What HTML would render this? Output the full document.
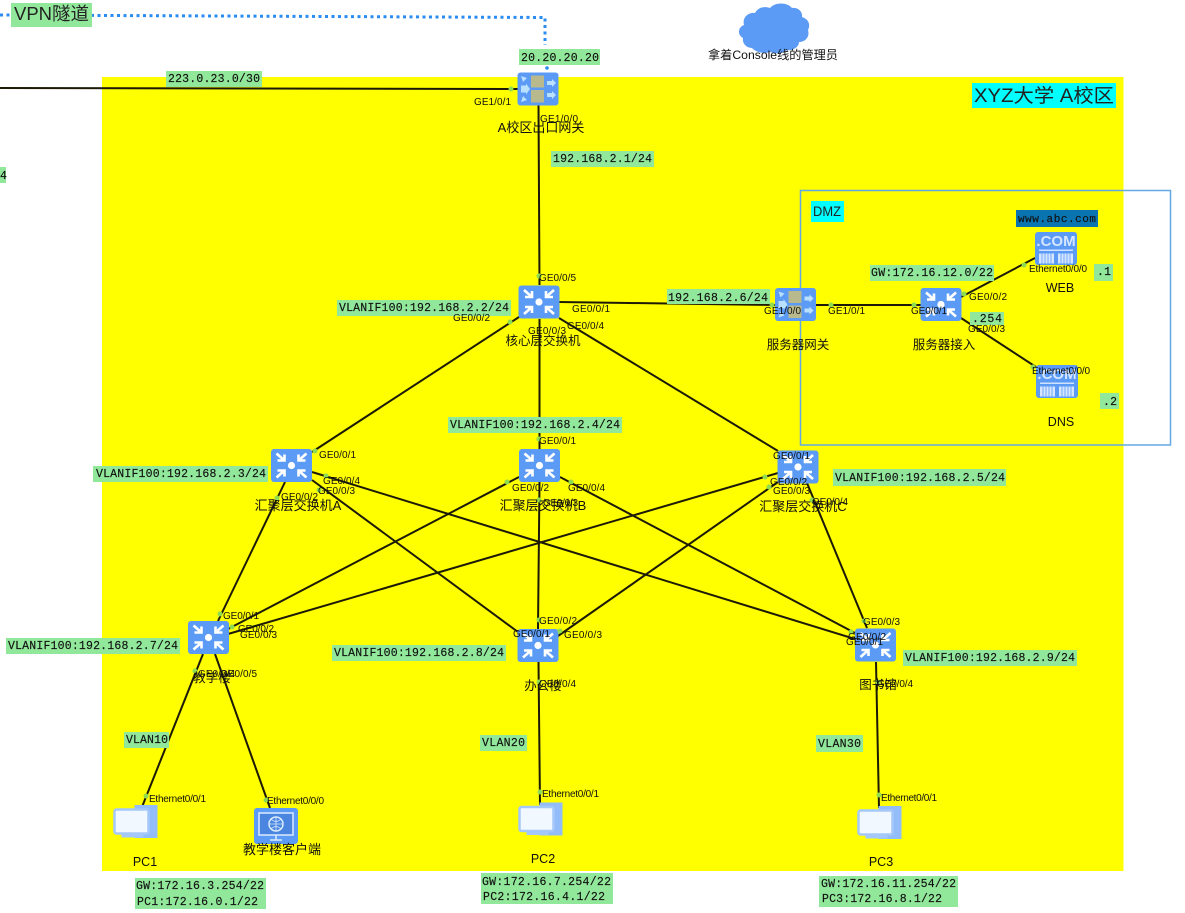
<!DOCTYPE html>
<html><head><meta charset="utf-8"><title>XYZ大学 A校区</title>
<style>
html,body{margin:0;padding:0;background:#fff;width:1185px;height:913px;overflow:hidden}
svg{display:block;filter:blur(.35px)}
.m{font-family:"Liberation Mono","Noto Sans CJK SC",monospace;font-size:11.5px;fill:#111;stroke:#111;stroke-width:.15}
.p{font-family:"Liberation Sans",sans-serif;font-size:10px;fill:#111}
.n{font-family:"Liberation Sans","Noto Sans CJK SC",sans-serif;font-size:12.5px;fill:#111;text-anchor:middle}
.l{stroke:#1c1a06;stroke-width:2;fill:none}
.g{fill:#92e89a}
.d{fill:#8fdc50}
</style></head><body>
<svg width="1185" height="913" viewBox="0 0 1185 913" xmlns="http://www.w3.org/2000/svg">
<defs>
<g id="sw">
<rect x="-20.500" y="-16.500" width="41" height="33" rx="3" fill="#5b9bf5"/>
<circle r="3.600" fill="#fff"/>
<g stroke="#fff" stroke-width="2.600" fill="none">
<path d="M-15-12l8 7M-7-11v6h-7"/><path d="M15-12l-8 7M7-11v6h7"/>
<path d="M-15 12l8-7M-7 11v-6h-7"/><path d="M15 12l-8-7M7 11v-6h7"/>
</g>
</g>
<g id="gw">
<rect x="-20.500" y="-16.500" width="41" height="33" rx="3" fill="#5b9bf5"/>
<rect x="-7" y="-13.500" width="13" height="12" fill="#b9b98e"/>
<rect x="-7" y="1" width="13" height="12.500" fill="#b9b98e"/>
<g fill="#b9e0ff">
<path d="M-17-13l6 2-4 4zM-17 13l6-2-4-4z"/>
<path d="M-17-3.500h5v-2l4 5.500-4 5.500v-2h-5zM9-8h5v-2l4 4-4 4v-2h-5zM9 4h5v-2l4 4-4 4v-2h-5z"/>
</g>
</g>
<g id="srv">
<rect x="-21" y="-16.500" width="42" height="33" rx="3" fill="#5b9bf5"/>
<rect x="-17" y="1" width="34" height="1.500" fill="#cfe2ff"/>
<rect x="-17" y="5" width="15" height="10" fill="#d6e6ff"/>
<rect x="2" y="5" width="15" height="10" fill="#d6e6ff"/>
<g stroke="#5b9bf5" stroke-width=".8"><path d="M-14 5v10M-11 5v10M-8 5v10M-5 5v10M5 5v10M8 5v10M11 5v10M14 5v10"/></g>
</g>
<g id="pc">
<rect x="-1" y="-16.500" width="23" height="33" fill="#93bdf8"/>
<rect x="-21" y="-12" width="34" height="24" rx="2" fill="#f2f8ff" stroke="#a4c8fa" stroke-width="2.500"/>
<rect x="-14" y="13" width="22" height="3" fill="#a4c8fa"/>
</g>
</defs>

<rect x="102" y="77" width="1021.500" height="794" fill="#ffff00"/>
<rect x="800.500" y="190.500" width="370" height="254.500" fill="none" stroke="#62a8e6" stroke-width="1.500"/>

<!-- VPN dotted -->
<path d="M0 15L545 17.500V45" fill="none" stroke="#2a8cf0" stroke-width="3" stroke-dasharray="3 3.500"/>
<circle cx="547" cy="68" r="1.800" fill="#2a8cf0"/>

<!-- Cloud -->
<path d="M752 48c-6 0-10-5-9-10-6-3-5-11 1-13-2-7 4-13 11-12 3-6 10-7 15-5 5-6 17-6 22 0 6-1 11 4 10 9 6 2 9 7 6 13 2 6-2 12-9 12 0 5-6 9-12 8-5 4-12 4-17 2-5 2-13 1-18-4z" fill="#5b9bf5"/>

<!-- Links -->
<g class="l">
<path d="M0 88L518 89"/>
<path d="M538.500 105L539.500 285"/>
<path d="M559 302L775 305M816 305H921"/>
<path d="M961 297L1035 258M961 318L1036 367"/>
<path d="M519 317L312 452M539.500 319V449M559 318L778 451"/>
<path d="M285 482L218 621"/>
<path d="M312 480L518 632"/>
<path d="M312 472L855 639"/>
<path d="M519 477L228 629"/>
<path d="M778 473L228 634"/>
<path d="M539.500 482L538 629"/>
<path d="M560 477L855 633"/>
<path d="M778 482L558 636"/>
<path d="M807 483L867 628"/>
<path d="M203 654L142 807"/>
<path d="M215 654L270 808"/>
<path d="M538.500 662L540 805"/>
<path d="M876 662L879 808"/>
</g>

<!-- Nodes -->
<use href="#gw" x="538" y="89"/>
<use href="#sw" x="539" y="302"/>
<use href="#gw" x="795.500" y="304.500"/>
<use href="#sw" x="941" y="304.500"/>
<use href="#srv" x="1056" y="248.500"/>
<use href="#srv" x="1057" y="381.500"/>
<text x="1056" y="246" font-family="Liberation Sans" font-weight="bold" font-size="15" fill="#d6e6ff" text-anchor="middle">.COM</text>
<text x="1057" y="379" font-family="Liberation Sans" font-weight="bold" font-size="15" fill="#d6e6ff" text-anchor="middle">.COM</text>
<use href="#sw" x="291.500" y="465.500"/>
<use href="#sw" x="539.500" y="465.500"/>
<use href="#sw" x="798" y="467"/>
<use href="#sw" x="208.500" y="637.500"/>
<use href="#sw" x="538" y="645.500"/>
<use href="#sw" x="875.500" y="645"/>
<use href="#pc" x="135.500" y="821.500"/>
<use href="#pc" x="540.500" y="819"/>
<use href="#pc" x="879.500" y="822.500"/>
<!-- client -->
<rect x="254" y="808" width="44" height="36" rx="3" fill="#5b9bf5"/>
<rect x="259" y="813" width="34" height="22" fill="#4a86e0" stroke="#dcebff" stroke-width="1.500"/>
<circle cx="276" cy="824" r="7" fill="none" stroke="#dcebff" stroke-width="1.500"/>
<path d="M276 817v14M269 824h14M271 819q5 5 10 0M271 829q5-5 10 0" fill="none" stroke="#dcebff" stroke-width=".8"/>
<path d="M270 840h12M276 835v5" stroke="#dcebff" stroke-width="1.500"/>

<!-- Port dots -->
<g class="d">
<circle cx="511" cy="89" r="2.500"/><circle cx="539" cy="276" r="2.500"/><circle cx="510" cy="322" r="2.500"/>
<circle cx="831" cy="305" r="2.500"/><circle cx="772" cy="305" r="2.500"/><circle cx="914" cy="305" r="2.500"/>
<circle cx="964" cy="294" r="2.500"/><circle cx="1024" cy="265" r="2.500"/><circle cx="1033" cy="367" r="2.500"/>
<circle cx="315" cy="451" r="2.500"/><circle cx="326" cy="476" r="2.500"/><circle cx="319" cy="490" r="2.500"/><circle cx="277" cy="498" r="2.500"/>
<circle cx="539" cy="439" r="2.500"/><circle cx="507" cy="482" r="2.500"/><circle cx="571" cy="482" r="2.500"/><circle cx="539" cy="500" r="2.500"/>
<circle cx="765" cy="477" r="2.500"/><circle cx="769" cy="487" r="2.500"/><circle cx="812" cy="500" r="2.500"/>
<circle cx="220" cy="614" r="2.500"/><circle cx="232" cy="627" r="2.500"/><circle cx="195" cy="671" r="2.500"/>
<circle cx="539" cy="620" r="2.500"/><circle cx="560" cy="631" r="2.500"/><circle cx="539" cy="682" r="2.500"/>
<circle cx="864" cy="621" r="2.500"/><circle cx="851" cy="632" r="2.500"/><circle cx="878" cy="682" r="2.500"/>
<circle cx="146" cy="796" r="2.500"/><circle cx="266" cy="800" r="2.500"/><circle cx="540" cy="792" r="2.500"/><circle cx="879" cy="795" r="2.500"/>
</g>

<!-- Green labels -->
<g class="g">
<rect x="11" y="3" width="81" height="24"/>
<rect x="519" y="49" width="81" height="16"/>
<rect x="166" y="71" width="96" height="16"/>
<rect x="0" y="167" width="6" height="16"/>
<rect x="551" y="151" width="103" height="16"/>
<rect x="337" y="300" width="174" height="16"/>
<rect x="870" y="265" width="124" height="16"/>
<rect x="667" y="289" width="103" height="15"/>
<rect x="1094" y="264" width="19" height="17"/>
<rect x="970" y="312" width="34" height="13"/>
<rect x="1100" y="393" width="19" height="16"/>
<rect x="448" y="417" width="174" height="16"/>
<rect x="93" y="466" width="175" height="16"/>
<rect x="833" y="469" width="173" height="17"/>
<rect x="6" y="638" width="174" height="16"/>
<rect x="332" y="645" width="174" height="16"/>
<rect x="903" y="650" width="174" height="16"/>
<rect x="124" y="732" width="45" height="16"/>
<rect x="480" y="735" width="47" height="16"/>
<rect x="816" y="735" width="47" height="17"/>
<rect x="135" y="878" width="131" height="31"/>
<rect x="481" y="873" width="132" height="31"/>
<rect x="819" y="876" width="139" height="31"/>
</g>
<rect x="972" y="83" width="144" height="25" fill="#00ffff"/>
<rect x="811" y="201" width="33" height="21" fill="#00ffff"/>
<rect x="1016" y="210" width="82" height="17" fill="#0a74b0"/>

<!-- Label text -->
<text x="14" y="20" font-family="Liberation Sans,Noto Sans CJK SC,sans-serif" font-size="18" fill="#222" textLength="75" lengthAdjust="spacingAndGlyphs">VPN隧道</text>
<text x="974" y="102" font-family="Liberation Sans,Noto Sans CJK SC,sans-serif" font-size="19" fill="#222" textLength="140" lengthAdjust="spacingAndGlyphs">XYZ大学 A校区</text>
<text x="813" y="216" font-family="Liberation Sans,sans-serif" font-size="14" fill="#222" textLength="28" lengthAdjust="spacingAndGlyphs">DMZ</text>
<g class="m">
<text x="521" y="61" textLength="78">20.20.20.20</text>
<text x="168" y="82" textLength="92">223.0.23.0/30</text>
<text x="0" y="179" textLength="4">4</text>
<text x="553" y="162" textLength="99">192.168.2.1/24</text>
<text x="339" y="311" textLength="170">VLANIF100:192.168.2.2/24</text>
<text x="871" y="276" textLength="122">GW:172.16.12.0/22</text>
<text x="668" y="301" textLength="100">192.168.2.6/24</text>
<text x="1097" y="275" textLength="14">.1</text>
<text x="972" y="322" textLength="30">.254</text>
<text x="1103" y="405" textLength="14">.2</text>
<text x="450" y="428" textLength="170">VLANIF100:192.168.2.4/24</text>
<text x="96" y="477" textLength="170">VLANIF100:192.168.2.3/24</text>
<text x="835" y="481" textLength="170">VLANIF100:192.168.2.5/24</text>
<text x="8" y="649" textLength="170">VLANIF100:192.168.2.7/24</text>
<text x="334" y="656" textLength="170">VLANIF100:192.168.2.8/24</text>
<text x="905" y="661" textLength="170">VLANIF100:192.168.2.9/24</text>
<text x="126" y="743" textLength="42">VLAN10</text>
<text x="482" y="746" textLength="43">VLAN20</text>
<text x="818" y="747" textLength="43">VLAN30</text>
<text x="136" y="889" textLength="128">GW:172.16.3.254/22</text>
<text x="137" y="905" textLength="121">PC1:172.16.0.1/22</text>
<text x="482" y="885" textLength="129">GW:172.16.7.254/22</text>
<text x="483" y="900" textLength="122">PC2:172.16.4.1/22</text>
<text x="821" y="887" textLength="135">GW:172.16.11.254/22</text>
<text x="822" y="902" textLength="120">PC3:172.16.8.1/22</text>
</g>
<text x="1018" y="222" font-family="Liberation Mono,monospace" font-size="11" fill="#111" stroke="#111" stroke-width=".15" textLength="78">www.abc.com</text>

<!-- Node names -->
<g class="n">
<text x="541" y="132" font-size="13">A校区出口网关</text>
<text x="543" y="345">核心层交换机</text>
<text x="798" y="349">服务器网关</text>
<text x="944" y="349">服务器接入</text>
<text x="1060" y="292">WEB</text>
<text x="1061" y="426">DNS</text>
<text x="298" y="510" font-size="13">汇聚层交换机A</text>
<text x="543" y="510" font-size="13">汇聚层交换机B</text>
<text x="803" y="511" font-size="13">汇聚层交换机C</text>
<text x="212" y="682">教学楼</text>
<text x="543" y="690">办公楼</text>
<text x="878" y="689">图书馆</text>
<text x="145" y="866">PC1</text>
<text x="282" y="854" font-size="13">教学楼客户端</text>
<text x="543" y="863">PC2</text>
<text x="881" y="866">PC3</text>
<text x="773" y="59" font-size="12" textLength="130" lengthAdjust="spacingAndGlyphs">拿着Console线的管理员</text>
</g>

<!-- Port labels -->
<g class="p">
<text x="474" y="105" textLength="37">GE1/0/1</text>
<text x="540" y="122" textLength="38">GE1/0/0</text>
<text x="539" y="281" textLength="37">GE0/0/5</text>
<text x="453" y="321" textLength="37">GE0/0/2</text>
<text x="528" y="334" textLength="38">GE0/0/3</text>
<text x="572" y="312" textLength="38">GE0/0/1</text>
<text x="567" y="329" textLength="37">GE0/0/4</text>
<text x="764" y="314" textLength="37">GE1/0/0</text>
<text x="828" y="314" textLength="37">GE1/0/1</text>
<text x="911" y="314" textLength="36">GE0/0/1</text>
<text x="969" y="300" textLength="38">GE0/0/2</text>
<text x="968" y="332" textLength="37">GE0/0/3</text>
<text x="1029" y="272" textLength="58">Ethernet0/0/0</text>
<text x="1032" y="374" textLength="58">Ethernet0/0/0</text>
<text x="319" y="458" textLength="37">GE0/0/1</text>
<text x="323" y="484" textLength="37">GE0/0/4</text>
<text x="318" y="494" textLength="37">GE0/0/3</text>
<text x="281" y="500" textLength="37">GE0/0/2</text>
<text x="539" y="444" textLength="37">GE0/0/1</text>
<text x="512" y="491" textLength="37">GE0/0/2</text>
<text x="568" y="491" textLength="37">GE0/0/4</text>
<text x="543" y="506" textLength="35">GE0/0/3</text>
<text x="773" y="459" textLength="37">GE0/0/1</text>
<text x="770" y="485" textLength="37">GE0/0/2</text>
<text x="773" y="494" textLength="37">GE0/0/3</text>
<text x="812" y="505" textLength="36">GE0/0/4</text>
<text x="223" y="619" textLength="36">GE0/0/1</text>
<text x="238" y="632" textLength="36">GE0/0/2</text>
<text x="240" y="638" textLength="37">GE0/0/3</text>
<text x="198" y="677" textLength="37">GE0/0/4</text>
<text x="220" y="677" textLength="37">GE0/0/5</text>
<text x="539" y="624" textLength="38">GE0/0/2</text>
<text x="513" y="637" textLength="37">GE0/0/1</text>
<text x="564" y="638" textLength="38">GE0/0/3</text>
<text x="539" y="687" textLength="37">GE0/0/4</text>
<text x="863" y="625" textLength="37">GE0/0/3</text>
<text x="848" y="640" textLength="38">GE0/0/2</text>
<text x="846" y="645" textLength="37">GE0/0/1</text>
<text x="877" y="687" textLength="36">GE0/0/4</text>
<text x="149" y="802" textLength="57">Ethernet0/0/1</text>
<text x="267" y="804" textLength="57">Ethernet0/0/0</text>
<text x="542" y="797" textLength="57">Ethernet0/0/1</text>
<text x="881" y="801" textLength="56">Ethernet0/0/1</text>
</g>
</svg>
</body></html>
